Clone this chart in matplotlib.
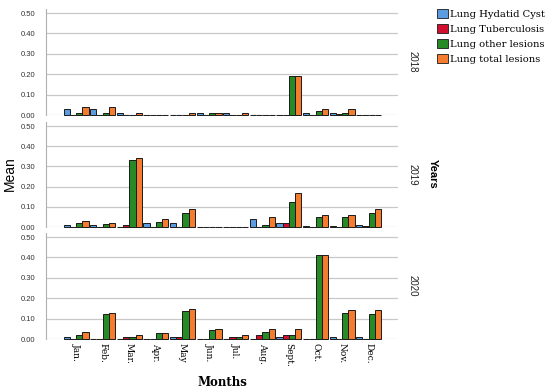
import matplotlib
matplotlib.use("Agg")
import matplotlib.pyplot as plt
import numpy as np
from matplotlib.patches import Patch

months = ["Jan.", "Feb.", "Mar.", "Apr.", "May", "Jun.", "Jul.", "Aug.", "Sept.", "Oct.", "Nov.", "Dec."]
years = ["2018", "2019", "2020"]
series = ["Lung Hydatid Cyst", "Lung Tuberculosis", "Lung other lesions", "Lung total lesions"]
colors = ["#5B9BE0", "#D0102E", "#268A26", "#F57B2E"]

hydatid_2018 = [0.03, 0.03, 0.01, 0, 0, 0.01, 0.01, 0, 0, 0.01, 0.01, 0]
tb_2018 = [0, 0, 0, 0, 0, 0, 0, 0, 0, 0, 0.005, 0]
other_2018 = [0.01, 0.01, 0, 0, 0, 0.01, 0, 0, 0.19, 0.02, 0.01, 0]
total_2018 = [0.04, 0.04, 0.01, 0, 0.01, 0.01, 0.01, 0, 0.19, 0.03, 0.03, 0]

hydatid_2019 = [0.01, 0.01, 0, 0.02, 0.02, 0, 0, 0.04, 0.02, 0.005, 0.005, 0.01]
tb_2019 = [0, 0, 0.01, 0, 0, 0, 0, 0, 0.02, 0, 0, 0.005]
other_2019 = [0.02, 0.015, 0.33, 0.025, 0.07, 0, 0, 0.01, 0.125, 0.05, 0.05, 0.067]
total_2019 = [0.03, 0.02, 0.34, 0.04, 0.09, 0, 0, 0.05, 0.17, 0.06, 0.06, 0.088]

hydatid_2020 = [0.008, 0, 0, 0, 0.008, 0, 0, 0, 0.008, 0, 0.008, 0.008]
tb_2020 = [0, 0, 0.008, 0, 0.008, 0, 0.008, 0.02, 0.02, 0, 0, 0]
other_2020 = [0.022, 0.124, 0.01, 0.028, 0.135, 0.046, 0.008, 0.035, 0.02, 0.41, 0.126, 0.124]
total_2020 = [0.032, 0.129, 0.02, 0.028, 0.148, 0.048, 0.02, 0.05, 0.05, 0.41, 0.14, 0.14]

data = {
    "2018": [hydatid_2018, tb_2018, other_2018, total_2018],
    "2019": [hydatid_2019, tb_2019, other_2019, total_2019],
    "2020": [hydatid_2020, tb_2020, other_2020, total_2020],
}

W, H = 550, 391
fig = plt.figure(figsize=(5.5, 3.91), dpi=100)

left = 46 / W
width = (398 - 46) / W
panels = [(9, 115), (122, 227), (233, 339)]

x = np.arange(len(months))
bw = 0.235
offsets = (np.arange(4) - 1.5) * bw

axes = []
for i, (yr, (top, bot)) in enumerate(zip(years, panels)):
    ax = fig.add_axes([left, 1 - bot / H, width, (bot - top) / H])
    axes.append(ax)
    for s in range(4):
        ax.bar(x + offsets[s], data[yr][s], width=bw, color=colors[s],
               edgecolor="#1a1a1a", linewidth=0.7, zorder=3, clip_on=False)
    ax.set_xlim(-1.13, 12.1)
    ax.set_ylim(0, 0.52)
    ax.set_yticks([0, 0.1, 0.2, 0.3, 0.4, 0.5])
    ax.set_yticklabels(["0.00", "0.10", "0.20", "0.30", "0.40", "0.50"],
                       fontsize=5.5, family="Liberation Sans", color="#333333")
    ax.tick_params(axis="y", length=0, pad=8)
    ax.grid(axis="y", color="#c8c8c8", linewidth=0.9, zorder=0)
    for sp in ["top", "right", "bottom"]:
        ax.spines[sp].set_visible(False)
    ax.spines["left"].set_color("#b0b0b0")
    ax.spines["left"].set_linewidth(0.8)
    ax.set_xticks(x)
    if i < 2:
        ax.tick_params(axis="x", length=0, labelbottom=False)
    else:
        ax.set_xticklabels(months, rotation=-90, fontsize=6.5, family="DejaVu Serif",
                           va="top", ha="center")
        ax.tick_params(axis="x", length=0, pad=3)
    ax.text(1.04, 0.5, yr, transform=ax.transAxes, rotation=-90, fontsize=7,
            family="Liberation Sans", va="center", ha="center", color="#222222")

fig.text(10 / W, 1 - 174 / H, "Mean", rotation=90, fontsize=10, family="Liberation Sans",
         va="center", ha="center")
fig.text(433 / W, 1 - 174 / H, "Years", rotation=-90, fontsize=8, family="Liberation Sans",
         fontweight="bold", va="center", ha="center")
fig.text(222 / W, 1 - 383 / H, "Months", fontsize=8.5, family="DejaVu Serif",
         fontweight="bold", va="center", ha="center")

handles = [Patch(facecolor=c, edgecolor="#1a1a1a", linewidth=0.6) for c in colors]
fig.legend(handles, series, loc="upper left", bbox_to_anchor=(435 / W, 1 - 7 / H),
           frameon=False, prop={"family": "DejaVu Serif", "size": 7.2},
           handlelength=1.05, handleheight=1.05, handletextpad=0.3, labelspacing=0.5,
           borderaxespad=0, borderpad=0.2)

fig.savefig("out.png", dpi=100)
